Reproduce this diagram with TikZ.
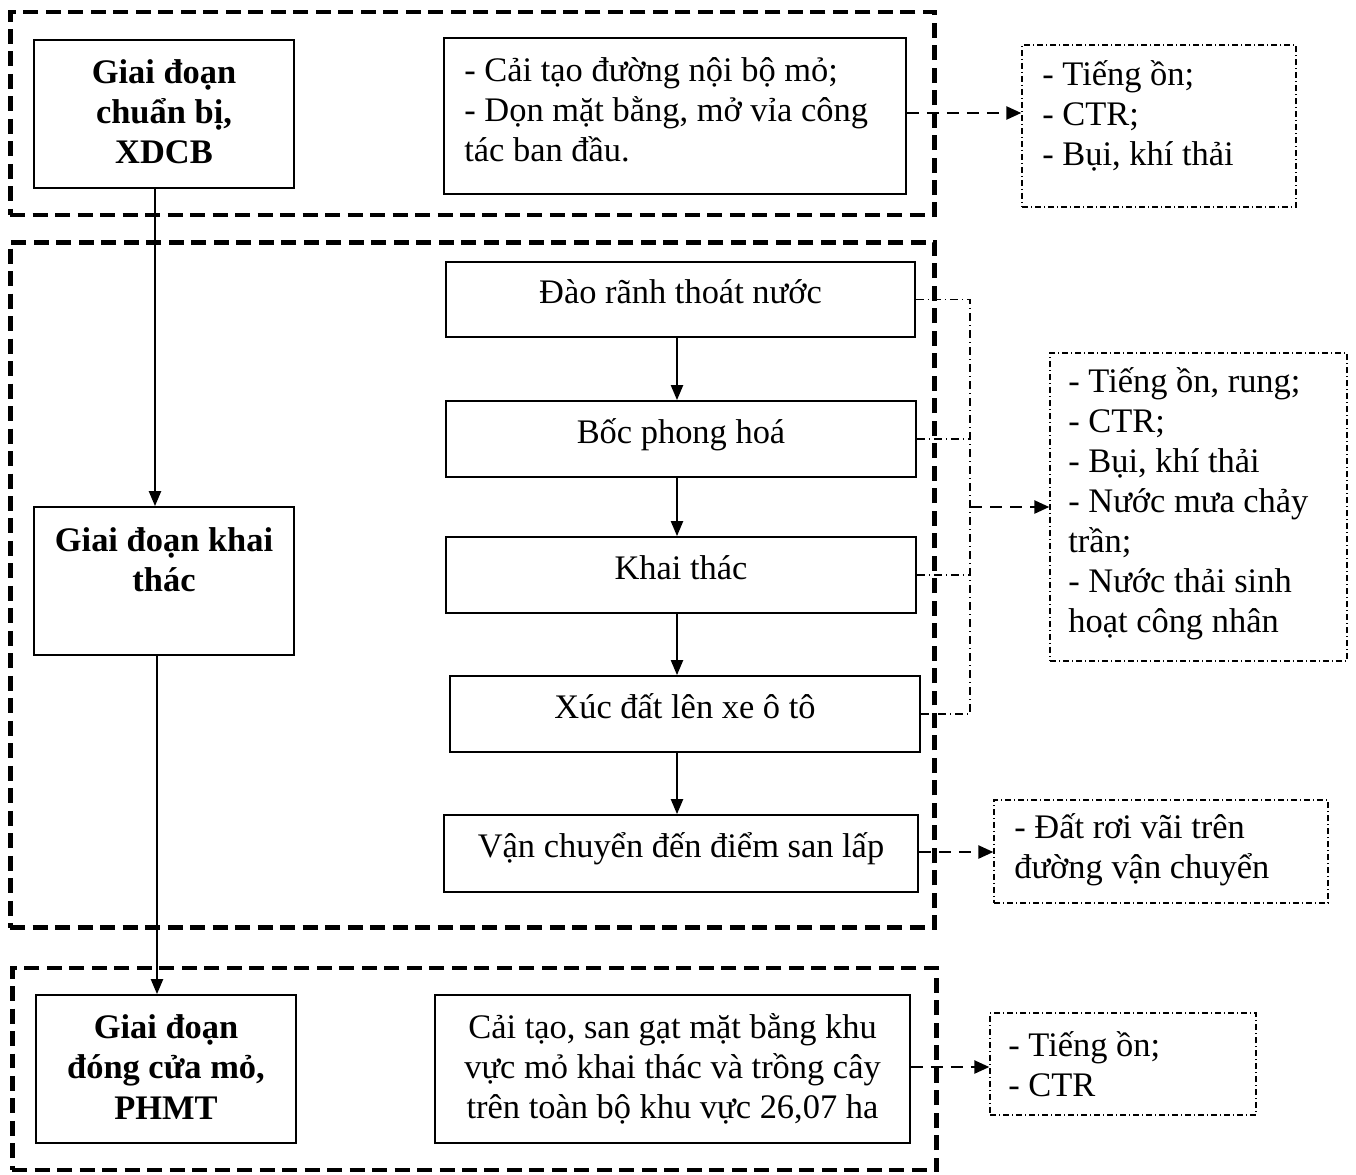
\documentclass[tikz,border=0pt]{standalone}
\usepackage{fontspec}
\setmainfont{Liberation Serif}
\usetikzlibrary{arrows.meta}
\tikzset{
 grp/.style={draw, line width=2.8pt, dash pattern=on 0.3cm off 0.15cm, rectangle, inner sep=0},
 sbox/.style={draw, line width=1pt, rectangle, inner sep=0, font=\fontsize{19.6}{22.8}\selectfont, align=center},
 pbox/.style={sbox, text height=0.48cm, text depth=0.32cm},
 obox/.style={draw, line width=0.8pt, dash pattern=on 0.12cm off 0.06cm on 0.02cm off 0.06cm, rectangle, inner sep=0},
 txt/.style={font=\fontsize{19.6}{22.8}\selectfont, inner sep=0, align=left, anchor=west},
 btxt/.style={font=\fontsize{19.6}{22.8}\selectfont\bfseries, inner sep=0, align=center},
 flow/.style={line width=1.2pt, -{Triangle[length=0.3cm,width=0.24cm]}},
 emit/.style={line width=1.4pt, dash pattern=on 0.24cm off 0.16cm, -{Triangle[length=0.3cm,width=0.26cm]}},
 bus/.style={line width=0.8pt, dash pattern=on 0.16cm off 0.08cm on 0.02cm off 0.08cm},
}
\begin{document}
\begin{tikzpicture}[x=0.02cm,y=-0.02cm]
\useasboundingbox (0,0) rectangle (1356,1174);
% group frames
\node[grp, minimum width=18.5cm, minimum height=4.06cm] (g1) at (472.5,113.5) {};
\node[grp, minimum width=18.5cm, minimum height=13.72cm] (g2) at (472.5,585) {};
\node[grp, minimum width=18.5cm, minimum height=4.04cm] (g3) at (474.5,1069) {};
% stage boxes
\node[sbox, minimum width=5.2cm, minimum height=2.96cm] (sa) at (164,114) {};
\node[btxt] (satxt) at (164,112) {Giai đoạn\\chuẩn bị,\\XDCB};
\node[sbox, minimum width=5.2cm, minimum height=2.96cm] (kt) at (164,581) {};
\node[btxt] (kttxt) at (164,560) {Giai đoạn khai\\thác};
\node[sbox, minimum width=5.2cm, minimum height=2.96cm] (dc) at (166,1069) {};
\node[btxt] (dctxt) at (166,1067) {Giai đoạn\\đóng cửa mỏ,\\PHMT};
% activity boxes
\node[sbox, minimum width=9.24cm, minimum height=3.12cm] (b) at (675,116) {};
\node[txt] (btext) at (464,110) {- Cải tạo đường nội bộ mỏ;\\- Dọn mặt bằng, mở vỉa công\\tác ban đầu.};
\node[pbox, minimum width=9.38cm, minimum height=1.5cm] (p1) at (680.5,299.5) {Đào rãnh thoát nước};
\node[pbox, minimum width=9.4cm, minimum height=1.52cm] (p2) at (681,439) {Bốc phong hoá};
\node[pbox, minimum width=9.4cm, minimum height=1.52cm] (p3) at (681,575) {Khai thác};
\node[pbox, minimum width=9.4cm, minimum height=1.52cm] (p4) at (685,714) {Xúc đất lên xe ô tô};
\node[pbox, minimum width=9.48cm, minimum height=1.54cm] (p5) at (681,853.5) {Vận chuyển đến điểm san lấp};
\node[sbox, minimum width=9.5cm, minimum height=2.96cm] (c) at (672.5,1069) {Cải tạo, san gạt mặt bằng khu\\vực mỏ khai thác và trồng cây\\trên toàn bộ khu vực 26,07 ha};
% output boxes
\node[obox, minimum width=5.48cm, minimum height=3.24cm] (o1) at (1159,126) {};
\node[txt] (o1txt) at (1042,116) {- Tiếng ồn;\\- CTR;\\- Bụi, khí thải};
\node[obox, minimum width=5.94cm, minimum height=6.16cm] (o2) at (1198.5,507) {};
\node[txt] (o2txt) at (1068,504) {- Tiếng ồn, rung;\\- CTR;\\- Bụi, khí thải\\- Nước mưa chảy\\trần;\\- Nước thải sinh\\hoạt công nhân};
\node[obox, minimum width=6.68cm, minimum height=2.06cm] (o3) at (1161,851.5) {};
\node[txt] (o3txt) at (1014,850) {- Đất rơi vãi trên\\đường vận chuyển};
\node[obox, minimum width=5.32cm, minimum height=2.04cm] (o4) at (1123,1064) {};
\node[txt] (o4txt) at (1008,1064) {- Tiếng ồn;\\- CTR};
% stage flow
\draw[flow] (sa.south -| 155,0) -- (kt.north -| 155,0);
\draw[flow] (kt.south -| 157,0) -- (dc.north -| 157,0);
% process flow
\draw[flow] (p1.south -| 677,0) -- (p2.north -| 677,0);
\draw[flow] (p2.south -| 677,0) -- (p3.north -| 677,0);
\draw[flow] (p3.south -| 677,0) -- (p4.north -| 677,0);
\draw[flow] (p4.south -| 677,0) -- (p5.north -| 677,0);
% bus
\coordinate (j) at (970,507);
\draw[bus] (p1.east) -- (p1.east -| j) -- (p4.east -| j) -- (p4.east);
\draw[bus] (p2.east) -- (p2.east -| j);
\draw[bus] (p3.east) -- (p3.east -| j);
% emissions
\draw[emit] (b.east |- 0,113) -- (o1.west |- 0,113);
\draw[emit] (j) -- (j -| o2.west);
\draw[emit] (p5.east |- 0,852) -- (o3.west |- 0,852);
\draw[emit] (c.east |- 0,1067) -- (o4.west |- 0,1067);
\end{tikzpicture}
\end{document}
